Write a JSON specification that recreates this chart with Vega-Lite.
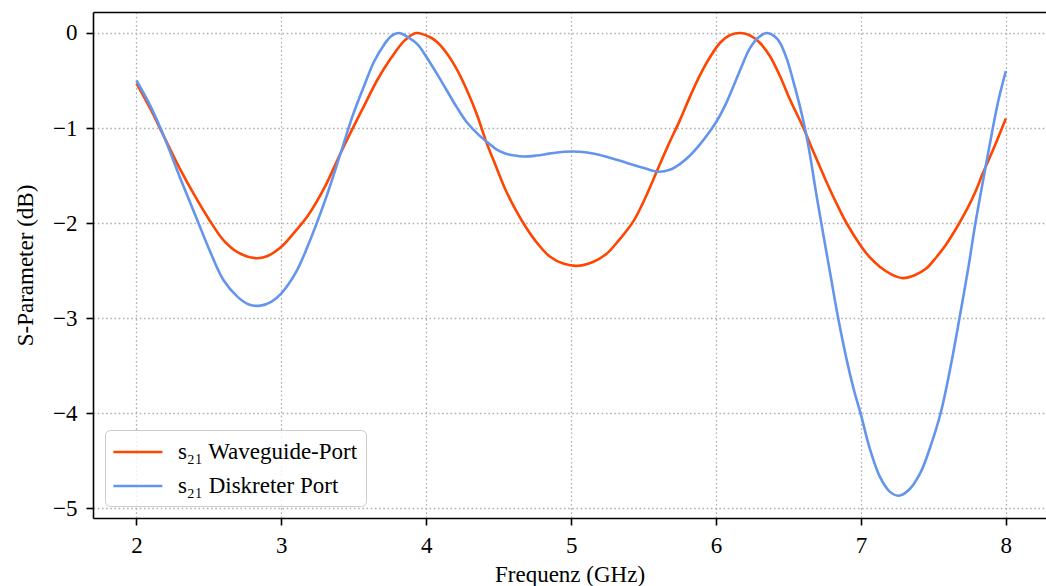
{
  "$schema": "https://vega.github.io/schema/vega-lite/v6.json",
  "width": 953,
  "height": 506,
  "autosize": {"type": "none"},
  "padding": {"left": 93, "top": 12, "right": 0, "bottom": 68},
  "background": "white",
  "data": {"values": [
    {"f": 2.0, "v": -0.53, "s": "s₂₁ Waveguide-Port"},
    {"f": 2.1, "v": -0.81, "s": "s₂₁ Waveguide-Port"},
    {"f": 2.19, "v": -1.09, "s": "s₂₁ Waveguide-Port"},
    {"f": 2.3, "v": -1.43, "s": "s₂₁ Waveguide-Port"},
    {"f": 2.42, "v": -1.76, "s": "s₂₁ Waveguide-Port"},
    {"f": 2.5, "v": -1.96, "s": "s₂₁ Waveguide-Port"},
    {"f": 2.6, "v": -2.18, "s": "s₂₁ Waveguide-Port"},
    {"f": 2.7, "v": -2.31, "s": "s₂₁ Waveguide-Port"},
    {"f": 2.82, "v": -2.37, "s": "s₂₁ Waveguide-Port"},
    {"f": 2.9, "v": -2.35, "s": "s₂₁ Waveguide-Port"},
    {"f": 3.0, "v": -2.25, "s": "s₂₁ Waveguide-Port"},
    {"f": 3.1, "v": -2.08, "s": "s₂₁ Waveguide-Port"},
    {"f": 3.18, "v": -1.93, "s": "s₂₁ Waveguide-Port"},
    {"f": 3.3, "v": -1.62, "s": "s₂₁ Waveguide-Port"},
    {"f": 3.41, "v": -1.26, "s": "s₂₁ Waveguide-Port"},
    {"f": 3.5, "v": -0.98, "s": "s₂₁ Waveguide-Port"},
    {"f": 3.57, "v": -0.77, "s": "s₂₁ Waveguide-Port"},
    {"f": 3.66, "v": -0.5, "s": "s₂₁ Waveguide-Port"},
    {"f": 3.75, "v": -0.28, "s": "s₂₁ Waveguide-Port"},
    {"f": 3.85, "v": -0.08, "s": "s₂₁ Waveguide-Port"},
    {"f": 3.93, "v": 0.0, "s": "s₂₁ Waveguide-Port"},
    {"f": 4.02, "v": -0.04, "s": "s₂₁ Waveguide-Port"},
    {"f": 4.07, "v": -0.09, "s": "s₂₁ Waveguide-Port"},
    {"f": 4.14, "v": -0.21, "s": "s₂₁ Waveguide-Port"},
    {"f": 4.21, "v": -0.38, "s": "s₂₁ Waveguide-Port"},
    {"f": 4.28, "v": -0.6, "s": "s₂₁ Waveguide-Port"},
    {"f": 4.35, "v": -0.86, "s": "s₂₁ Waveguide-Port"},
    {"f": 4.41, "v": -1.13, "s": "s₂₁ Waveguide-Port"},
    {"f": 4.48, "v": -1.4, "s": "s₂₁ Waveguide-Port"},
    {"f": 4.55, "v": -1.66, "s": "s₂₁ Waveguide-Port"},
    {"f": 4.62, "v": -1.87, "s": "s₂₁ Waveguide-Port"},
    {"f": 4.69, "v": -2.05, "s": "s₂₁ Waveguide-Port"},
    {"f": 4.77, "v": -2.22, "s": "s₂₁ Waveguide-Port"},
    {"f": 4.85, "v": -2.35, "s": "s₂₁ Waveguide-Port"},
    {"f": 4.95, "v": -2.43, "s": "s₂₁ Waveguide-Port"},
    {"f": 5.05, "v": -2.45, "s": "s₂₁ Waveguide-Port"},
    {"f": 5.15, "v": -2.41, "s": "s₂₁ Waveguide-Port"},
    {"f": 5.24, "v": -2.33, "s": "s₂₁ Waveguide-Port"},
    {"f": 5.33, "v": -2.18, "s": "s₂₁ Waveguide-Port"},
    {"f": 5.43, "v": -1.98, "s": "s₂₁ Waveguide-Port"},
    {"f": 5.51, "v": -1.74, "s": "s₂₁ Waveguide-Port"},
    {"f": 5.59, "v": -1.46, "s": "s₂₁ Waveguide-Port"},
    {"f": 5.67, "v": -1.18, "s": "s₂₁ Waveguide-Port"},
    {"f": 5.75, "v": -0.92, "s": "s₂₁ Waveguide-Port"},
    {"f": 5.82, "v": -0.67, "s": "s₂₁ Waveguide-Port"},
    {"f": 5.89, "v": -0.44, "s": "s₂₁ Waveguide-Port"},
    {"f": 5.96, "v": -0.25, "s": "s₂₁ Waveguide-Port"},
    {"f": 6.03, "v": -0.1, "s": "s₂₁ Waveguide-Port"},
    {"f": 6.1, "v": -0.02, "s": "s₂₁ Waveguide-Port"},
    {"f": 6.17, "v": 0.0, "s": "s₂₁ Waveguide-Port"},
    {"f": 6.24, "v": -0.03, "s": "s₂₁ Waveguide-Port"},
    {"f": 6.3, "v": -0.1, "s": "s₂₁ Waveguide-Port"},
    {"f": 6.37, "v": -0.24, "s": "s₂₁ Waveguide-Port"},
    {"f": 6.44, "v": -0.45, "s": "s₂₁ Waveguide-Port"},
    {"f": 6.51, "v": -0.7, "s": "s₂₁ Waveguide-Port"},
    {"f": 6.6, "v": -0.99, "s": "s₂₁ Waveguide-Port"},
    {"f": 6.68, "v": -1.28, "s": "s₂₁ Waveguide-Port"},
    {"f": 6.76, "v": -1.56, "s": "s₂₁ Waveguide-Port"},
    {"f": 6.83, "v": -1.79, "s": "s₂₁ Waveguide-Port"},
    {"f": 6.9, "v": -2.0, "s": "s₂₁ Waveguide-Port"},
    {"f": 6.99, "v": -2.22, "s": "s₂₁ Waveguide-Port"},
    {"f": 7.06, "v": -2.36, "s": "s₂₁ Waveguide-Port"},
    {"f": 7.13, "v": -2.46, "s": "s₂₁ Waveguide-Port"},
    {"f": 7.21, "v": -2.54, "s": "s₂₁ Waveguide-Port"},
    {"f": 7.29, "v": -2.58, "s": "s₂₁ Waveguide-Port"},
    {"f": 7.37, "v": -2.55, "s": "s₂₁ Waveguide-Port"},
    {"f": 7.45, "v": -2.48, "s": "s₂₁ Waveguide-Port"},
    {"f": 7.52, "v": -2.36, "s": "s₂₁ Waveguide-Port"},
    {"f": 7.59, "v": -2.22, "s": "s₂₁ Waveguide-Port"},
    {"f": 7.66, "v": -2.05, "s": "s₂₁ Waveguide-Port"},
    {"f": 7.73, "v": -1.86, "s": "s₂₁ Waveguide-Port"},
    {"f": 7.79, "v": -1.67, "s": "s₂₁ Waveguide-Port"},
    {"f": 7.84, "v": -1.48, "s": "s₂₁ Waveguide-Port"},
    {"f": 7.92, "v": -1.2, "s": "s₂₁ Waveguide-Port"},
    {"f": 8.0, "v": -0.9, "s": "s₂₁ Waveguide-Port"},
    {"f": 2.0, "v": -0.5, "s": "s₂₁ Diskreter Port"},
    {"f": 2.1, "v": -0.78, "s": "s₂₁ Diskreter Port"},
    {"f": 2.19, "v": -1.09, "s": "s₂₁ Diskreter Port"},
    {"f": 2.3, "v": -1.52, "s": "s₂₁ Diskreter Port"},
    {"f": 2.42, "v": -1.97, "s": "s₂₁ Diskreter Port"},
    {"f": 2.5, "v": -2.27, "s": "s₂₁ Diskreter Port"},
    {"f": 2.6, "v": -2.6, "s": "s₂₁ Diskreter Port"},
    {"f": 2.7, "v": -2.78, "s": "s₂₁ Diskreter Port"},
    {"f": 2.78, "v": -2.86, "s": "s₂₁ Diskreter Port"},
    {"f": 2.855, "v": -2.87, "s": "s₂₁ Diskreter Port"},
    {"f": 2.93, "v": -2.83, "s": "s₂₁ Diskreter Port"},
    {"f": 3.0, "v": -2.74, "s": "s₂₁ Diskreter Port"},
    {"f": 3.1, "v": -2.52, "s": "s₂₁ Diskreter Port"},
    {"f": 3.18, "v": -2.25, "s": "s₂₁ Diskreter Port"},
    {"f": 3.3, "v": -1.77, "s": "s₂₁ Diskreter Port"},
    {"f": 3.41, "v": -1.26, "s": "s₂₁ Diskreter Port"},
    {"f": 3.49, "v": -0.88, "s": "s₂₁ Diskreter Port"},
    {"f": 3.57, "v": -0.56, "s": "s₂₁ Diskreter Port"},
    {"f": 3.64, "v": -0.3, "s": "s₂₁ Diskreter Port"},
    {"f": 3.71, "v": -0.12, "s": "s₂₁ Diskreter Port"},
    {"f": 3.76, "v": -0.03, "s": "s₂₁ Diskreter Port"},
    {"f": 3.81, "v": 0.0, "s": "s₂₁ Diskreter Port"},
    {"f": 3.87, "v": -0.04, "s": "s₂₁ Diskreter Port"},
    {"f": 3.94, "v": -0.12, "s": "s₂₁ Diskreter Port"},
    {"f": 4.0, "v": -0.25, "s": "s₂₁ Diskreter Port"},
    {"f": 4.07, "v": -0.42, "s": "s₂₁ Diskreter Port"},
    {"f": 4.14, "v": -0.6, "s": "s₂₁ Diskreter Port"},
    {"f": 4.21, "v": -0.78, "s": "s₂₁ Diskreter Port"},
    {"f": 4.28, "v": -0.94, "s": "s₂₁ Diskreter Port"},
    {"f": 4.36, "v": -1.07, "s": "s₂₁ Diskreter Port"},
    {"f": 4.43, "v": -1.16, "s": "s₂₁ Diskreter Port"},
    {"f": 4.49, "v": -1.23, "s": "s₂₁ Diskreter Port"},
    {"f": 4.55, "v": -1.27, "s": "s₂₁ Diskreter Port"},
    {"f": 4.61, "v": -1.29, "s": "s₂₁ Diskreter Port"},
    {"f": 4.67, "v": -1.3, "s": "s₂₁ Diskreter Port"},
    {"f": 4.76, "v": -1.29, "s": "s₂₁ Diskreter Port"},
    {"f": 4.85, "v": -1.27, "s": "s₂₁ Diskreter Port"},
    {"f": 4.95, "v": -1.25, "s": "s₂₁ Diskreter Port"},
    {"f": 5.06, "v": -1.25, "s": "s₂₁ Diskreter Port"},
    {"f": 5.16, "v": -1.27, "s": "s₂₁ Diskreter Port"},
    {"f": 5.26, "v": -1.31, "s": "s₂₁ Diskreter Port"},
    {"f": 5.35, "v": -1.35, "s": "s₂₁ Diskreter Port"},
    {"f": 5.43, "v": -1.39, "s": "s₂₁ Diskreter Port"},
    {"f": 5.52, "v": -1.43, "s": "s₂₁ Diskreter Port"},
    {"f": 5.6, "v": -1.46, "s": "s₂₁ Diskreter Port"},
    {"f": 5.68, "v": -1.44, "s": "s₂₁ Diskreter Port"},
    {"f": 5.75, "v": -1.38, "s": "s₂₁ Diskreter Port"},
    {"f": 5.82, "v": -1.29, "s": "s₂₁ Diskreter Port"},
    {"f": 5.89, "v": -1.17, "s": "s₂₁ Diskreter Port"},
    {"f": 5.95, "v": -1.05, "s": "s₂₁ Diskreter Port"},
    {"f": 6.0, "v": -0.94, "s": "s₂₁ Diskreter Port"},
    {"f": 6.06, "v": -0.77, "s": "s₂₁ Diskreter Port"},
    {"f": 6.12, "v": -0.56, "s": "s₂₁ Diskreter Port"},
    {"f": 6.18, "v": -0.34, "s": "s₂₁ Diskreter Port"},
    {"f": 6.23, "v": -0.17, "s": "s₂₁ Diskreter Port"},
    {"f": 6.29, "v": -0.05, "s": "s₂₁ Diskreter Port"},
    {"f": 6.35, "v": 0.0, "s": "s₂₁ Diskreter Port"},
    {"f": 6.4, "v": -0.03, "s": "s₂₁ Diskreter Port"},
    {"f": 6.44, "v": -0.1, "s": "s₂₁ Diskreter Port"},
    {"f": 6.49, "v": -0.28, "s": "s₂₁ Diskreter Port"},
    {"f": 6.53, "v": -0.49, "s": "s₂₁ Diskreter Port"},
    {"f": 6.57, "v": -0.72, "s": "s₂₁ Diskreter Port"},
    {"f": 6.61, "v": -0.98, "s": "s₂₁ Diskreter Port"},
    {"f": 6.65, "v": -1.3, "s": "s₂₁ Diskreter Port"},
    {"f": 6.69, "v": -1.68, "s": "s₂₁ Diskreter Port"},
    {"f": 6.74, "v": -2.12, "s": "s₂₁ Diskreter Port"},
    {"f": 6.79, "v": -2.55, "s": "s₂₁ Diskreter Port"},
    {"f": 6.84, "v": -2.98, "s": "s₂₁ Diskreter Port"},
    {"f": 6.9, "v": -3.43, "s": "s₂₁ Diskreter Port"},
    {"f": 6.95, "v": -3.75, "s": "s₂₁ Diskreter Port"},
    {"f": 7.0, "v": -4.02, "s": "s₂₁ Diskreter Port"},
    {"f": 7.06, "v": -4.37, "s": "s₂₁ Diskreter Port"},
    {"f": 7.13, "v": -4.67, "s": "s₂₁ Diskreter Port"},
    {"f": 7.2, "v": -4.83, "s": "s₂₁ Diskreter Port"},
    {"f": 7.26, "v": -4.87, "s": "s₂₁ Diskreter Port"},
    {"f": 7.33, "v": -4.81, "s": "s₂₁ Diskreter Port"},
    {"f": 7.41, "v": -4.63, "s": "s₂₁ Diskreter Port"},
    {"f": 7.48, "v": -4.35, "s": "s₂₁ Diskreter Port"},
    {"f": 7.55, "v": -4.0, "s": "s₂₁ Diskreter Port"},
    {"f": 7.62, "v": -3.5, "s": "s₂₁ Diskreter Port"},
    {"f": 7.68, "v": -3.0, "s": "s₂₁ Diskreter Port"},
    {"f": 7.74, "v": -2.48, "s": "s₂₁ Diskreter Port"},
    {"f": 7.79, "v": -2.0, "s": "s₂₁ Diskreter Port"},
    {"f": 7.86, "v": -1.41, "s": "s₂₁ Diskreter Port"},
    {"f": 7.91, "v": -1.0, "s": "s₂₁ Diskreter Port"},
    {"f": 7.95, "v": -0.7, "s": "s₂₁ Diskreter Port"},
    {"f": 8.0, "v": -0.4, "s": "s₂₁ Diskreter Port"}
  ]},
  "layer": [
    {
      "mark": {"type": "line", "interpolate": "catmull-rom", "strokeWidth": 2.6},
      "encoding": {
        "x": {"field": "f", "type": "quantitative",
              "scale": {"domain": [1.7, 8.277], "nice": false, "zero": false},
              "axis": {"values": [2, 3, 4, 5, 6, 7, 8], "format": "d", "title": "Frequenz (GHz)", "orient": "bottom"}},
        "y": {"field": "v", "type": "quantitative",
              "scale": {"domain": [-5.105, 0.221], "nice": false, "zero": false},
              "axis": {"values": [-5, -4, -3, -2, -1, 0], "format": "d", "title": "S-Parameter (dB)"}},
        "color": {"field": "s", "type": "nominal",
                  "scale": {"domain": ["s₂₁ Waveguide-Port", "s₂₁ Diskreter Port"], "range": ["#ff4500", "#6495ed"]},
                  "legend": {"title": null, "orient": "none", "legendX": 12, "legendY": 418}}
      }
    },
    {
      "mark": {"type": "line", "opacity": 0},
      "encoding": {
        "x": {"field": "f", "type": "quantitative",
              "axis": {"orient": "top", "labels": false, "ticks": false, "grid": false, "title": null, "domain": true}},
        "y": {"field": "v", "type": "quantitative"},
        "detail": {"field": "s"}
      }
    }
  ],
  "resolve": {"axis": {"x": "independent"}},
  "config": {
    "view": {"stroke": null},
    "font": "Liberation Serif",
    "axis": {
      "labelFont": "Liberation Serif",
      "labelFontSize": 23,
      "labelColor": "black",
      "titleFont": "Liberation Serif",
      "titleFontSize": 23,
      "titleFontWeight": "normal",
      "titleColor": "black",
      "domainColor": "black",
      "domainWidth": 1.6,
      "tickColor": "black",
      "tickWidth": 1.6,
      "tickSize": 7,
      "labelFlush": false,
      "labelOverlap": false,
      "grid": true,
      "gridColor": "#b0b0b0",
      "gridDash": [1.6, 2.6],
      "gridWidth": 1.3
    },
    "axisX": {"labelPadding": 9, "titlePadding": 6},
    "axisY": {"labelPadding": 9, "titlePadding": 15},
    "legend": {
      "labelFont": "Liberation Serif",
      "labelFontSize": 23,
      "labelColor": "black",
      "labelLimit": 0,
      "symbolType": "M-2,0H2",
      "symbolSize": 600,
      "symbolStrokeWidth": 2.6,
      "symbolOffset": 10.9,
      "labelOffset": 26,
      "padding": 8,
      "rowPadding": 8,
      "fillColor": "rgba(255,255,255,0.8)",
      "strokeColor": "#cccccc",
      "cornerRadius": 5
    }
  }
}
